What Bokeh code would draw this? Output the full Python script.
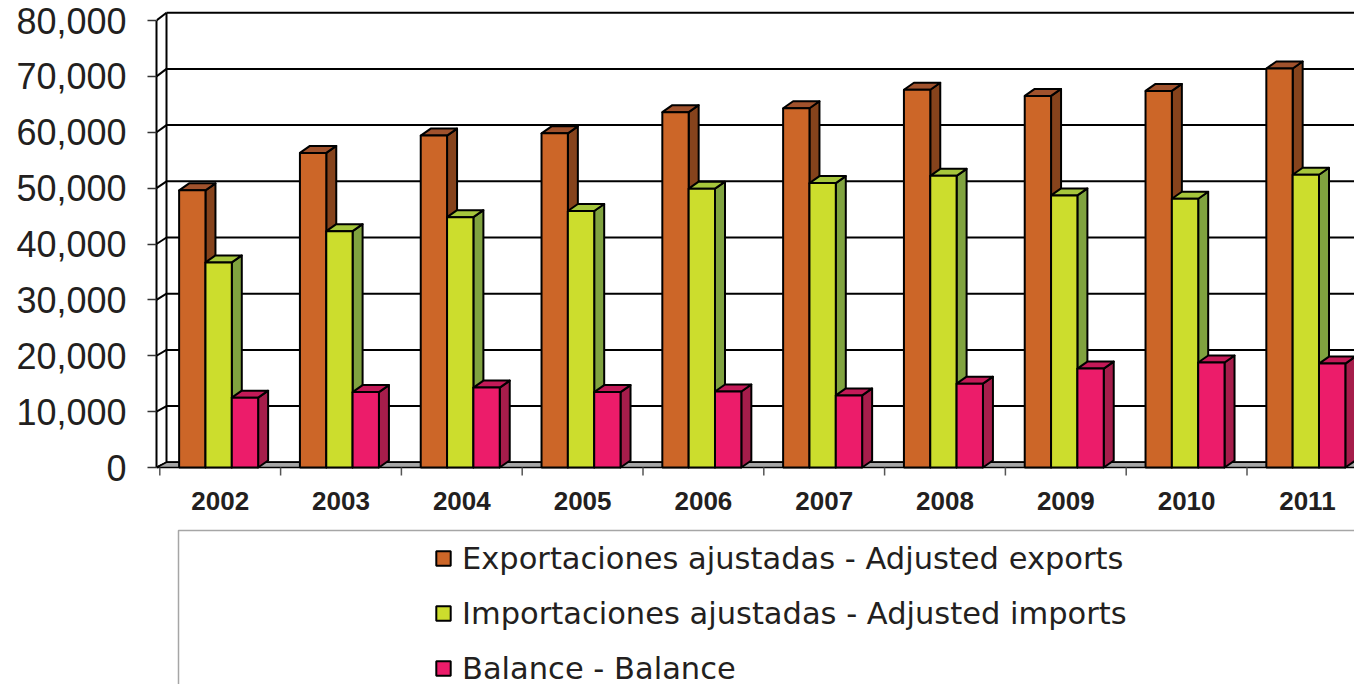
from bokeh.plotting import figure
from bokeh.models import (Range1d, FixedTicker, NumeralTickFormatter, Legend,
                          LegendItem, ColumnDataSource)
from bokeh.core.properties import value
from bokeh.embed import file_html
from bokeh.resources import INLINE

# ---------------- data ----------------
years = ["2002", "2003", "2004", "2005", "2006", "2007", "2008", "2009", "2010", "2011"]
exports = [49600, 56300, 59400, 59800, 63600, 64300, 67600, 66500, 67400, 71400]
imports = [36700, 42300, 44800, 45900, 49900, 50900, 52200, 48700, 48100, 52400]
balance = [12500, 13500, 14300, 13500, 13600, 12900, 15000, 17700, 18800, 18600]
series_names = ["Exportaciones ajustadas - Adjusted exports",
                "Importaciones ajustadas - Adjusted imports",
                "Balance - Balance"]
y_ticks = [0, 10000, 20000, 30000, 40000, 50000, 60000, 70000, 80000]

# ---------------- styling / geometry ----------------
front_colors = ["#CC6628", "#CCDD2D", "#EC1C6A"]
top_colors = ["#A0522D", "#A6C63C", "#C41A58"]
side_colors = ["#86431C", "#80A33F", "#A61D4B"]
TEXT = "#231F20"

PXX = 120.8          # pixels per category
PXY = 0.0055875      # pixels per value unit
DX = 10 / PXX        # 3-D depth offset (x)
DYB = 7 / PXY        # 3-D depth offset for bars (y)
BAR_OFF = 0.16
BAR_W = 0.218
XF = -3.3 / PXX      # front wall x
XB = 6.7 / PXX       # back wall x
LEFT = 156           # left border (px)


def back_y(v):
    return v * 1.0058 + 930


W, H = 1354, 684
p = figure(width=W, height=H, output_backend="svg", toolbar_location=None,
           x_axis_location=None,
           x_range=Range1d(XF, XF + (W - LEFT) / PXX),
           y_range=Range1d((467 - H) / PXY, 467 / PXY),
           min_border_left=LEFT, min_border_right=0, min_border_top=0,
           min_border_bottom=0)
p.outline_line_color = None
p.xgrid.visible = False
p.ygrid.visible = False
p.background_fill_color = "white"

# y axis (front plane)
ax = p.yaxis[0]
ax.ticker = FixedTicker(ticks=y_ticks)
ax.formatter = NumeralTickFormatter(format="0,0")
ax.bounds = (0, 80000)
ax.axis_line_width = 2
ax.axis_line_color = "black"
ax.major_tick_out = 9
ax.major_tick_in = 0
ax.major_tick_line_color = "#333333"
ax.major_tick_line_width = 1.5
ax.minor_tick_line_color = None
ax.major_label_text_font = "Liberation Sans"
ax.major_label_text_font_size = "36px"
ax.major_label_text_color = TEXT
ax.major_label_standoff = 21

XR = 11.0  # beyond the right edge

# back wall gridlines
p.segment(x0=[XB] * len(y_ticks), y0=[back_y(v) for v in y_ticks],
          x1=[XR] * len(y_ticks), y1=[back_y(v) for v in y_ticks],
          line_color="black", line_width=2)
# back wall left edge
p.segment(x0=[XB], y0=[back_y(0)], x1=[XB], y1=[back_y(80000)],
          line_color="black", line_width=2)
# side wall diagonals
p.segment(x0=[XF] * len(y_ticks), y0=y_ticks,
          x1=[XB] * len(y_ticks), y1=[back_y(v) for v in y_ticks],
          line_color="black", line_width=2)
# floor
p.patch(x=[XF, XR, XR, XB], y=[0, 0, back_y(0), back_y(0)],
        fill_color="#A6A6A6", line_color="black", line_width=1.5)
# category ticks below the floor
p.segment(x0=list(range(11)), y0=[0] * 11, x1=list(range(11)),
          y1=[-8 / PXY] * 11, line_color="#555555", line_width=1.5)

# bars
front_renderers = []
for j, vals in enumerate([exports, imports, balance]):
    lefts = [i + BAR_OFF + j * BAR_W for i in range(len(years))]
    rights = [l + BAR_W for l in lefts]
    side_xs = [[r, r + DX, r + DX, r] for r in rights]
    side_ys = [[0, DYB, v + DYB, v] for v in vals]
    top_xs = [[l, r, r + DX, l + DX] for l, r in zip(lefts, rights)]
    top_ys = [[v, v, v + DYB, v + DYB] for v in vals]
    p.patches(xs=side_xs, ys=side_ys, fill_color=side_colors[j],
              line_color="black", line_width=2, line_join="round")
    p.patches(xs=top_xs, ys=top_ys, fill_color=top_colors[j],
              line_color="black", line_width=2, line_join="round")
    src = ColumnDataSource(dict(left=lefts, right=rights, top=vals,
                                bottom=[0] * len(vals)))
    r = p.quad(left="left", right="right", top="top", bottom="bottom",
               source=src, fill_color=front_colors[j], line_color="black",
               line_width=2)
    front_renderers.append(r)

# year labels
ysrc = ColumnDataSource(dict(x=[i + 0.5 for i in range(len(years))],
                             y=[(467 - 500) / PXY] * len(years), text=years))
p.text(x="x", y="y", text="text", source=ysrc, text_align="center",
       text_baseline="middle", text_font=value("Liberation Sans"),
       text_font_style="bold", text_font_size="26px", text_color=TEXT)

# legend box
p.quad(left=[(178 - 159.3) / PXX], right=[XR], top=[(467 - 530) / PXY],
       bottom=[-80000], fill_color="white", line_color="#A6A6A6",
       line_width=1.5)

legend = Legend(items=[LegendItem(label=n, renderers=[r])
                       for n, r in zip(series_names, front_renderers)],
                location=(434 - LEFT, -2), orientation="vertical",
                padding=0, margin=0, spacing=19,
                glyph_width=18, glyph_height=18, label_height=36,
                label_standoff=10,
                label_text_font="DejaVu Sans", label_text_font_size="30.5px",
                label_text_color=TEXT,
                border_line_color=None, background_fill_alpha=0)
p.add_layout(legend)

open("out.html", "w").write(file_html(p, INLINE, "Exportaciones"))
